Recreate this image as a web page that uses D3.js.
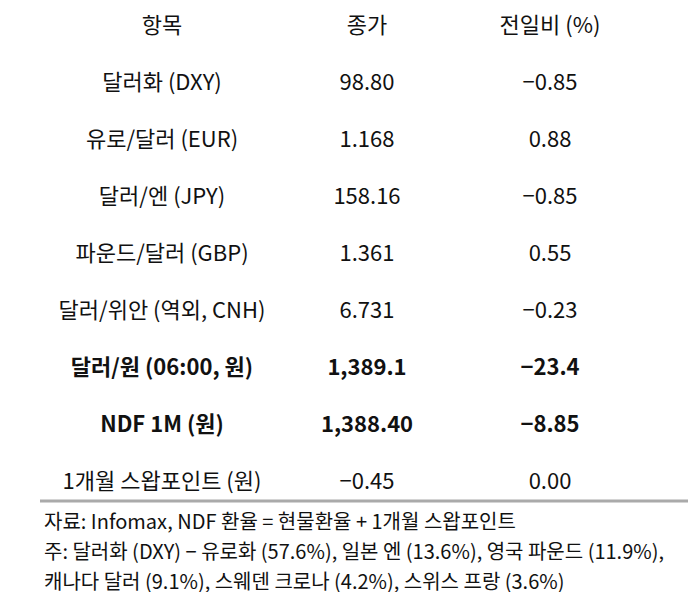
<!DOCTYPE html>
<html><head><meta charset="utf-8">
<script src="https://cdn.jsdelivr.net/npm/d3@7"></script>
<style>body{margin:0;background:#fff}</style>
</head><body><div id="chart"></div>
<script>
// table data
const headers = ['항목', '종가', '전일비 (%)'];
const items = ['달러화 (DXY)', '유로/달러 (EUR)', '달러/엔 (JPY)', '파운드/달러 (GBP)', '달러/위안 (역외, CNH)', '달러/원 (06:00, 원)', 'NDF 1M (원)', '1개월 스왑포인트 (원)'];
const closes = ['98.80', '1.168', '158.16', '1.361', '6.731', '1,389.1', '1,388.40', '−0.45'];
const changes = ['−0.85', '0.88', '−0.85', '0.55', '−0.23', '−23.4', '−8.85', '0.00'];
const boldRows = [5, 6];
const notes = [
  '자료: Infomax, NDF 환율 = 현물환율 + 1개월 스왑포인트',
  '주: 달러화 (DXY) − 유로화 (57.6%), 일본 엔 (13.6%), 영국 파운드 (11.9%),',
  '캐나다 달러 (9.1%), 스웨덴 크로나 (4.2%), 스위스 프랑 (3.6%)'
];

const width = 688, height = 592;
const svg = d3.select('#chart').append('svg').attr('width', width).attr('height', height)
  .style('font-family', '"Noto Sans CJK KR", "Noto Sans", sans-serif');

// column centers
const colX = [162, 367, 550];
const y = d3.scaleBand().domain(d3.range(-1, items.length)).range([-6, 507]);

svg.selectAll('text.head').data(headers).enter().append('text')
  .attr('x', (d, i) => colX[i]).attr('y', y(-1) + y.bandwidth() / 2)
  .attr('text-anchor', 'middle').attr('dominant-baseline', 'central')
  .attr('font-size', 22).attr('fill', '#111').text(d => d);

const rows = svg.selectAll('g.row').data(items).enter().append('g')
  .attr('transform', (d, i) => 'translate(0,' + (y(i) + y.bandwidth() / 2) + ')');
rows.each(function(d, i) {
  const g = d3.select(this);
  [d, closes[i], changes[i]].forEach((t, j) => {
    g.append('text').attr('x', colX[j]).attr('text-anchor', 'middle')
      .attr('dominant-baseline', 'central').attr('font-size', 22)
      .attr('font-weight', boldRows.includes(i) ? 'bold' : 'normal')
      .attr('fill', '#111').text(t);
  });
});

svg.append('line').attr('x1', 40).attr('x2', 688).attr('y1', 501).attr('y2', 501)
  .attr('stroke', '#aaa').attr('stroke-width', 3);

svg.selectAll('text.note').data(notes).enter().append('text')
  .attr('x', 44).attr('y', (d, i) => 520 + i * 30)
  .attr('dominant-baseline', 'central').attr('font-size', 20).attr('fill', '#111')
  .text(d => d);
</script></body></html>
